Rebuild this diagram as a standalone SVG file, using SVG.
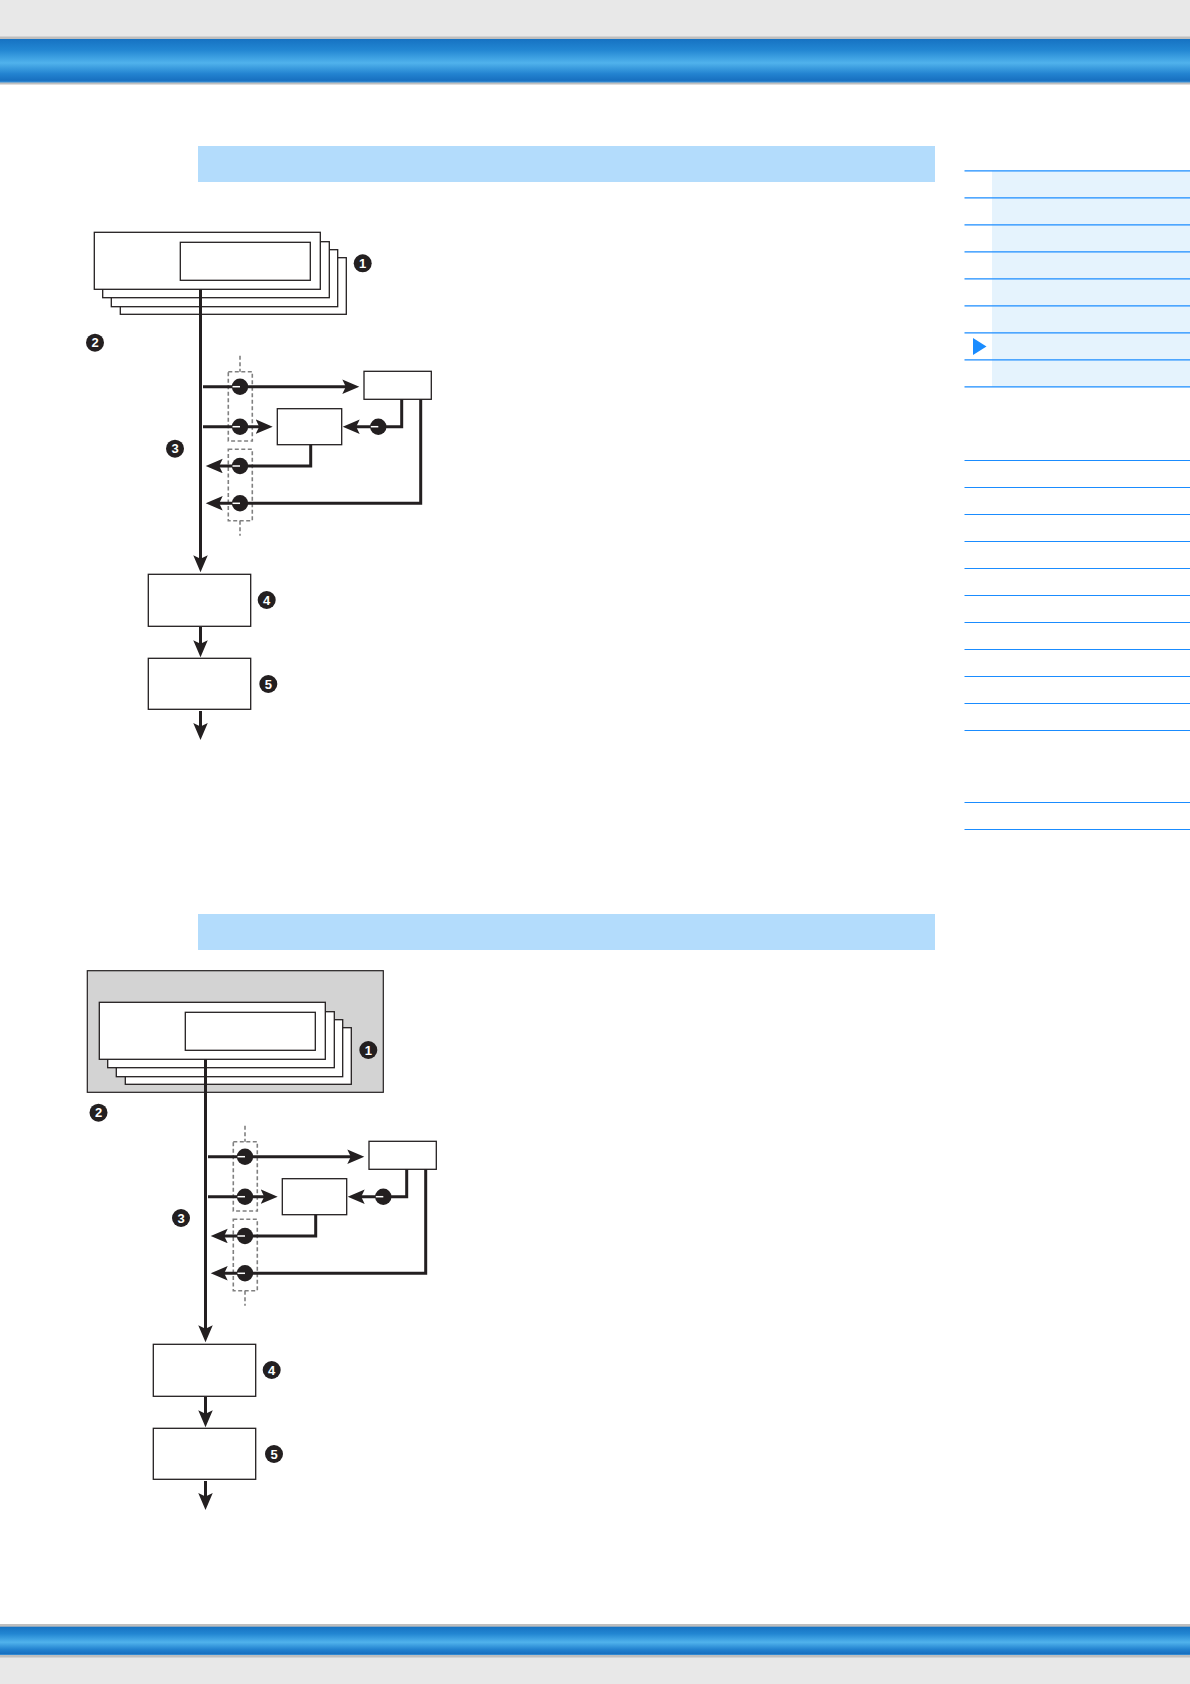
<svg xmlns="http://www.w3.org/2000/svg" xmlns:xlink="http://www.w3.org/1999/xlink" width="1190" height="1684" viewBox="0 0 1190 1684">
<defs>
<linearGradient id="bar" x1="0" y1="0" x2="0" y2="1">
<stop offset="0" stop-color="#1672C2"/>
<stop offset="0.25" stop-color="#2286D2"/>
<stop offset="0.55" stop-color="#50B2EC"/>
<stop offset="0.8" stop-color="#2383D0"/>
<stop offset="0.95" stop-color="#1870C0"/>
<stop offset="1" stop-color="#3C94DA"/>
</linearGradient>
<marker id="ah" markerUnits="userSpaceOnUse" markerWidth="18" markerHeight="15" refX="4" refY="7.25" orient="auto" viewBox="0 0 18 15">
<path d="M0,0 L17,7.25 L0,14.5 L3.5,7.25 Z" fill="#231F20"/>
</marker>
<g id="sw">
<circle cx="0" cy="0" r="8.2" fill="#231F20"/>
<line x1="-7.5" y1="0" x2="0" y2="0" stroke="#ffffff" stroke-width="1.5"/>
</g>
<style>
.box{fill:#ffffff;stroke:#231F20;stroke-width:1.3}
.flow{fill:none;stroke:#231F20;stroke-width:3;marker-end:url(#ah)}
.dash{fill:none;stroke:#808080;stroke-width:1.6;stroke-dasharray:4 2.5}
.badge circle{fill:#231F20}
.badge text{fill:#ffffff;font-family:"Liberation Sans",Arial,sans-serif;font-weight:bold;font-size:13px;text-anchor:middle}
.nav{stroke:#1A8CFF;stroke-width:1.2}
.hdr{fill:#B3DCFC}
</style>
</defs>

<!-- page frame -->
<rect x="0" y="0" width="1190" height="1684" fill="#ffffff"/>
<rect x="0" y="0" width="1190" height="37" fill="#E8E8E8"/>
<rect x="0" y="36.5" width="1190" height="48" fill="#BEBEBE"/>
<rect x="0" y="39" width="1190" height="43.5" fill="url(#bar)"/>
<rect x="0" y="1624" width="1190" height="34" fill="#BEBEBE"/>
<rect x="0" y="1626.7" width="1190" height="28.3" fill="url(#bar)"/>
<rect x="0" y="1657.5" width="1190" height="26.5" fill="#E8E8E8"/>

<rect class="hdr" x="198" y="146" width="737" height="36"/>
<rect class="hdr" x="198" y="914" width="737" height="36"/>

<!-- right navigation panel -->
<g id="nav">
<rect x="992" y="170.8" width="198" height="216" fill="#E5F3FD"/>
<g class="nav">
<line x1="964.5" y1="170.8" x2="1190" y2="170.8"/>
<line x1="964.5" y1="197.8" x2="1190" y2="197.8"/>
<line x1="964.5" y1="224.8" x2="1190" y2="224.8"/>
<line x1="964.5" y1="251.8" x2="1190" y2="251.8"/>
<line x1="964.5" y1="278.8" x2="1190" y2="278.8"/>
<line x1="964.5" y1="305.8" x2="1190" y2="305.8"/>
<line x1="964.5" y1="332.8" x2="1190" y2="332.8"/>
<line x1="964.5" y1="359.8" x2="1190" y2="359.8"/>
<line x1="964.5" y1="386.8" x2="1190" y2="386.8"/>
<line x1="964.5" y1="460.5" x2="1190" y2="460.5"/>
<line x1="964.5" y1="487.5" x2="1190" y2="487.5"/>
<line x1="964.5" y1="514.5" x2="1190" y2="514.5"/>
<line x1="964.5" y1="541.5" x2="1190" y2="541.5"/>
<line x1="964.5" y1="568.5" x2="1190" y2="568.5"/>
<line x1="964.5" y1="595.5" x2="1190" y2="595.5"/>
<line x1="964.5" y1="622.5" x2="1190" y2="622.5"/>
<line x1="964.5" y1="649.5" x2="1190" y2="649.5"/>
<line x1="964.5" y1="676.5" x2="1190" y2="676.5"/>
<line x1="964.5" y1="703.5" x2="1190" y2="703.5"/>
<line x1="964.5" y1="730.5" x2="1190" y2="730.5"/>
<line x1="964.5" y1="802.5" x2="1190" y2="802.5"/>
<line x1="964.5" y1="829.5" x2="1190" y2="829.5"/>
</g>
<polygon points="973,338 986.5,346.5 973,355" fill="#1A8CFF"/>
</g>

<!-- ===== Diagram 1 ===== -->
<g id="diagram1">
<g id="d1-stack">
<rect class="box" x="120.3" y="257.7" width="226" height="56.6"/>
<rect class="box" x="111.3" y="249.7" width="226.4" height="57"/>
<rect class="box" x="102.7" y="241.7" width="226.6" height="56"/>
<rect class="box" x="94.3" y="232.3" width="226" height="57"/>
<rect class="box" x="180.3" y="242.3" width="130" height="38"/>
</g>
<g id="d1-boxA"><rect class="box" x="364" y="371.3" width="67.3" height="28"/></g>
<g id="d1-boxB"><rect class="box" x="277.3" y="408.7" width="64.4" height="36"/></g>
<g id="d1-box4"><rect class="box" x="148.3" y="574.3" width="102.4" height="52"/></g>
<g id="d1-box5"><rect class="box" x="148.3" y="658.3" width="102.4" height="51"/></g>
<g id="d1-dash">
<rect class="dash" x="228.3" y="371.7" width="24" height="69.3"/>
<rect class="dash" x="228.3" y="449.3" width="24" height="71.4"/>
<line class="dash" x1="240" y1="355.7" x2="240" y2="371.7"/>
<line class="dash" x1="240" y1="520.7" x2="240" y2="535.7"/>
</g>
<g id="d1-connectors">
<path class="flow" d="M200.5,289.3 V559.3"/>
<path class="flow" d="M203,386.7 H346.3"/>
<path class="flow" d="M203,426.7 H259.7"/>
<path class="flow" d="M401.7,399.3 V426.7 H355.7"/>
<path class="flow" d="M310.7,444.7 V466 H218.7"/>
<path class="flow" d="M420.7,399.3 V503.3 H218.7"/>
<path class="flow" d="M200.5,627 V644.3"/>
<path class="flow" d="M200.5,711 V727"/>
<use xlink:href="#sw" href="#sw" x="240" y="386.7"/>
<use xlink:href="#sw" href="#sw" x="240" y="426.7"/>
<use xlink:href="#sw" href="#sw" x="240" y="466"/>
<use xlink:href="#sw" href="#sw" x="240" y="503.3"/>
<use xlink:href="#sw" href="#sw" x="378.3" y="426.7"/>
</g>
<g id="d1-badges">
<g class="badge" id="d1-b1"><circle cx="362.7" cy="263.3" r="9"/><text x="362.7" y="267.9">1</text></g>
<g class="badge" id="d1-b2"><circle cx="95" cy="342.7" r="9"/><text x="95" y="347.3">2</text></g>
<g class="badge" id="d1-b3"><circle cx="175" cy="448.7" r="9"/><text x="175" y="453.3">3</text></g>
<g class="badge" id="d1-b4"><circle cx="266.7" cy="600" r="9"/><text x="266.7" y="604.6">4</text></g>
<g class="badge" id="d1-b5"><circle cx="268.3" cy="684" r="9"/><text x="268.3" y="688.6">5</text></g>
</g>
</g>

<!-- ===== Diagram 2 ===== -->
<g id="diagram2">
<g id="d2-area"><rect x="87.3" y="970.7" width="296" height="121.6" fill="#D3D3D3" stroke="#231F20" stroke-width="1.2"/></g>
<g transform="translate(5,770)">
<g id="d2-stack">
<rect class="box" x="120.3" y="257.7" width="226" height="56.6"/>
<rect class="box" x="111.3" y="249.7" width="226.4" height="57"/>
<rect class="box" x="102.7" y="241.7" width="226.6" height="56"/>
<rect class="box" x="94.3" y="232.3" width="226" height="57"/>
<rect class="box" x="180.3" y="242.3" width="130" height="38"/>
</g>
<g id="d2-boxA"><rect class="box" x="364" y="371.3" width="67.3" height="28"/></g>
<g id="d2-boxB"><rect class="box" x="277.3" y="408.7" width="64.4" height="36"/></g>
<g id="d2-box4"><rect class="box" x="148.3" y="574.3" width="102.4" height="52"/></g>
<g id="d2-box5"><rect class="box" x="148.3" y="658.3" width="102.4" height="51"/></g>
<g id="d2-dash">
<rect class="dash" x="228.3" y="371.7" width="24" height="69.3"/>
<rect class="dash" x="228.3" y="449.3" width="24" height="71.4"/>
<line class="dash" x1="240" y1="355.7" x2="240" y2="371.7"/>
<line class="dash" x1="240" y1="520.7" x2="240" y2="535.7"/>
</g>
<g id="d2-connectors">
<path class="flow" d="M200.5,289.3 V559.3"/>
<path class="flow" d="M203,386.7 H346.3"/>
<path class="flow" d="M203,426.7 H259.7"/>
<path class="flow" d="M401.7,399.3 V426.7 H355.7"/>
<path class="flow" d="M310.7,444.7 V466 H218.7"/>
<path class="flow" d="M420.7,399.3 V503.3 H218.7"/>
<path class="flow" d="M200.5,627 V644.3"/>
<path class="flow" d="M200.5,711 V727"/>
<use xlink:href="#sw" href="#sw" x="240" y="386.7"/>
<use xlink:href="#sw" href="#sw" x="240" y="426.7"/>
<use xlink:href="#sw" href="#sw" x="240" y="466"/>
<use xlink:href="#sw" href="#sw" x="240" y="503.3"/>
<use xlink:href="#sw" href="#sw" x="378.3" y="426.7"/>
</g>
<g id="d2-badges">
<g class="badge" id="d2-b1"><circle cx="363.3" cy="280" r="9"/><text x="363.3" y="284.6">1</text></g>
<g class="badge" id="d2-b2"><circle cx="93.5" cy="342.7" r="9"/><text x="93.5" y="347.3">2</text></g>
<g class="badge" id="d2-b3"><circle cx="176" cy="448" r="9"/><text x="176" y="452.6">3</text></g>
<g class="badge" id="d2-b4"><circle cx="266.7" cy="600" r="9"/><text x="266.7" y="604.6">4</text></g>
<g class="badge" id="d2-b5"><circle cx="269" cy="684" r="9"/><text x="269" y="688.6">5</text></g>
</g>
</g>
</g>
</svg>
